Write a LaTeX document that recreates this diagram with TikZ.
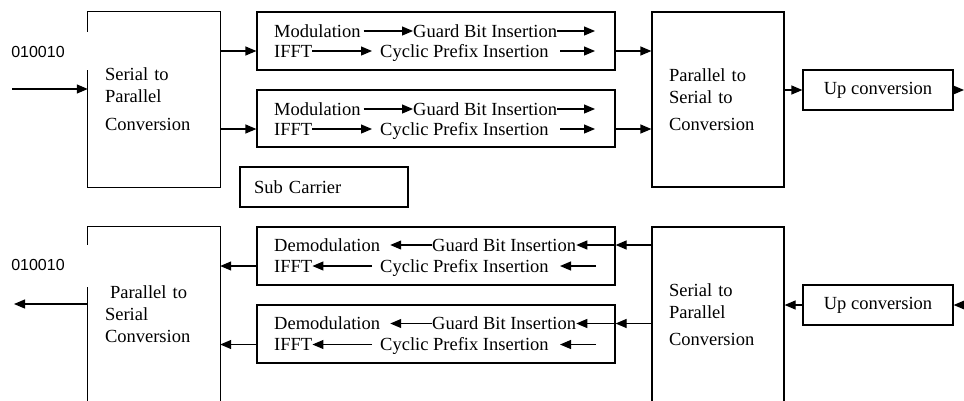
\documentclass[tikz,border=0pt]{standalone}
\usepackage{fontspec}
\setmainfont{Liberation Serif}
\newfontfamily\bitsfont{Liberation Sans}
\usetikzlibrary{arrows.meta}

\begin{document}
\begin{tikzpicture}[x=1pt,y=-1pt,
  every node/.style={font=\fontsize{18.5}{22}\selectfont},
  box/.style={draw,line width=1.2pt},
  blk/.style={minimum width=132pt,minimum height=175pt,text width=98pt,inner xsep=17pt,align=left},
  lane/.style={box,minimum width=358pt,minimum height=58pt},
  word/.style={anchor=west,inner sep=0pt,text height=13pt,text depth=1pt},
  bits/.style={font=\bitsfont\fontsize{16}{18}\selectfont},
  arr/.style={-{Triangle[length=11pt,width=9pt]},line width=1.2pt}]
\useasboundingbox (0,0) rectangle (964,400);
\clip (0,0) rectangle (964,400);
% transmitter
\node[bits] (bits1) at (38,52) {010010};
\node[blk] (sp1) at (154,99.5) {Serial to\\Parallel\\[6pt]Conversion};
\draw[box] ([yshift=-20pt]sp1.north west) -- (sp1.north west) -- (sp1.north east)
  -- (sp1.south east) -- (sp1.south west) -- ([yshift=-58pt]sp1.north west);
\node[lane] (tx1) at (436,41) {};
\node[lane,minimum height=57pt] (tx2) at (436,118.5) {};
\node[box,blk] (ps1) at (718,99.5) {Parallel to\\Serial to\\[5pt]Conversion};
\node[box,minimum width=150pt,minimum height=40pt] (up1) at (878,90) {Up conversion};
\node[box,minimum width=168pt,minimum height=40pt,text width=140pt,inner xsep=14pt,align=left] (sub) at (324,187) {Sub Carrier};
\node[word] (mod1) at (274,31) {Modulation};
\node[word] (gbi1) at (413,31) {Guard Bit Insertion};
\node[word] (ifft1) at (274,51) {IFFT};
\node[word] (cpi1) at (380,51) {Cyclic Prefix Insertion};
\coordinate (gbi1e) at (595,31);
\coordinate (cpi1s) at (560,51);
\coordinate (cpi1e) at (595,51);
\node[word] (mod2) at (274,109) {Modulation};
\node[word] (gbi2) at (413,109) {Guard Bit Insertion};
\node[word] (ifft2) at (274,129) {IFFT};
\node[word] (cpi2) at (380,129) {Cyclic Prefix Insertion};
\coordinate (gbi2e) at (595,109);
\coordinate (cpi2s) at (560,129);
\coordinate (cpi2e) at (595,129);
\draw[arr,shorten <=3pt] (mod1) -- (gbi1);
\draw[arr] (gbi1) -- (gbi1e);
\draw[arr,shorten >=8pt] (ifft1) -- (cpi1);
\draw[arr] (cpi1s) -- (cpi1e);
\draw[arr,shorten <=3pt] (mod2) -- (gbi2);
\draw[arr] (gbi2) -- (gbi2e);
\draw[arr,shorten >=8pt] (ifft2) -- (cpi2);
\draw[arr] (cpi2s) -- (cpi2e);
\coordinate (in1) at (12,89);
\coordinate (out1) at (964,90);
\draw[arr] (in1) -- (in1 -| sp1.west);
\draw[arr] (sp1.east |- ifft1) -- (tx1.west |- ifft1);
\draw[arr] (sp1.east |- ifft2) -- (tx2.west |- ifft2);
\draw[arr] (tx1.east |- ifft1) -- (ps1.west |- ifft1);
\draw[arr] (tx2.east |- ifft2) -- (ps1.west |- ifft2);
\draw[arr] (ps1.east |- up1) -- (up1);
\draw[arr] (up1) -- (out1);
% receiver
\node[bits] (bits2) at (38,265) {010010};
\node[blk] (ps2) at (154,314.5) {\hspace{5pt}Parallel to\\Serial\\Conversion};
\draw[box] ([yshift=-18pt]ps2.north west) -- (ps2.north west) -- (ps2.north east)
  -- (ps2.south east) -- (ps2.south west) -- ([yshift=-60pt]ps2.north west);
\node[lane] (rx1) at (436,256) {};
\node[lane] (rx2) at (436,334) {};
\node[box,blk] (sp2) at (718,314.5) {Serial to\\Parallel\\[5pt]Conversion};
\node[box,minimum width=150pt,minimum height=40pt] (up2) at (878,305) {Up conversion};
\node[word] (dem1) at (274,245) {Demodulation};
\node[word] (gbi3) at (432,245) {Guard Bit Insertion};
\node[word] (ifft3) at (274,266) {IFFT};
\node[word] (cpi3) at (380,266) {Cyclic Prefix Insertion};
\coordinate (cpi3s) at (596,266);
\coordinate (cpi3e) at (560,266);
\node[word] (dem2) at (274,323.5) {Demodulation};
\node[word] (gbi4) at (432,323.5) {Guard Bit Insertion};
\node[word] (ifft4) at (274,344.5) {IFFT};
\node[word] (cpi4) at (380,344.5) {Cyclic Prefix Insertion};
\coordinate (cpi4s) at (596,344.5);
\coordinate (cpi4e) at (560,344.5);
\draw[arr,shorten >=10pt] (gbi3) -- (dem1);
\draw[arr] (rx1.east |- gbi3) -- (gbi3);
\draw[arr,shorten <=8pt] (cpi3) -- (ifft3);
\draw[arr] (cpi3s) -- (cpi3e);
\draw[arr,shorten >=10pt] (gbi4) -- (dem2);
\draw[arr] (rx2.east |- gbi4) -- (gbi4);
\draw[arr,shorten <=8pt] (cpi4) -- (ifft4);
\draw[arr] (cpi4s) -- (cpi4e);
\coordinate (in2) at (964,305);
\coordinate (out2) at (14,304);
\draw[arr] (in2) -- (up2);
\draw[arr] (up2) -- (sp2.east |- up2);
\draw[arr] (sp2.west |- dem1) -- (rx1.east |- dem1);
\draw[arr] (sp2.west |- dem2) -- (rx2.east |- dem2);
\draw[arr] (rx1.west |- ifft3) -- (ps2.east |- ifft3);
\draw[arr] (rx2.west |- ifft4) -- (ps2.east |- ifft4);
\draw[arr] (ps2.west |- out2) -- (out2);
\end{tikzpicture}
\end{document}
